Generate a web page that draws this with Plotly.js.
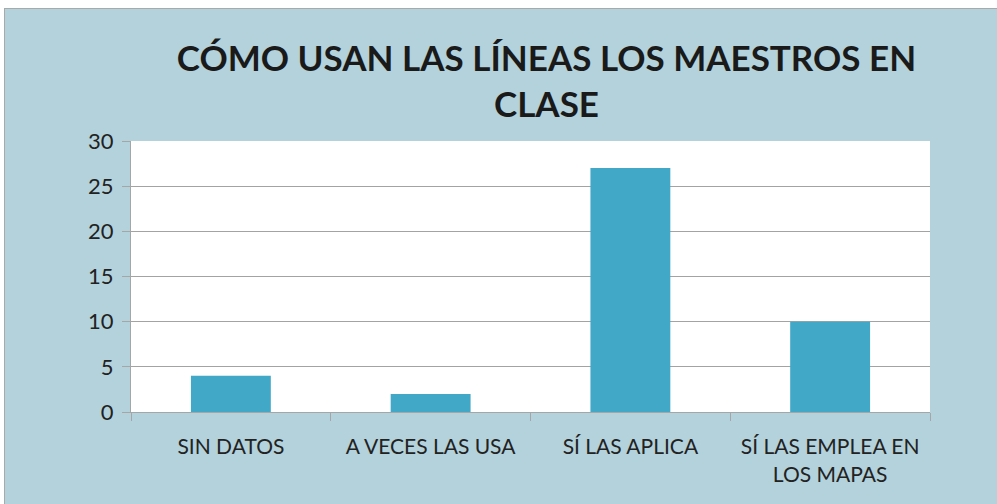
<!DOCTYPE html>
<html>
<head>
<meta charset="utf-8">
<script src="https://cdn.plot.ly/plotly-3.0.1.min.js"></script>
<style>
  body { margin: 0; background: #ffffff; }
  #frame {
    position: absolute; left: 4px; top: 8px;
    width: 993px; height: 496px;
    border-top: 1px solid #a9a9a9; border-left: 1px solid #a9a9a9;
    box-sizing: border-box;
  }
  #chart { width: 992px; height: 495px; }
</style>
</head>
<body>
<div id="frame"><div id="chart"></div></div>
<script>
const categories = ['SIN DATOS', 'A VECES LAS USA', 'SÍ LAS APLICA', 'SÍ LAS EMPLEA EN<br>LOS MAPAS'];
const values = [4, 2, 27, 10];
const yTicks = [0, 5, 10, 15, 20, 25, 30];

const trace = {
    x: categories,
    y: values,
    type: 'bar',
    width: 0.4,
    marker: { color: '#41a9c7' },
    hoverinfo: 'x+y'
};

const layout = {
    width: 992,
    height: 495,
    paper_bgcolor: '#b3d2dc',
    plot_bgcolor: '#ffffff',
    margin: { l: 126, r: 67, t: 132, b: 92 },
    showlegend: false,
    font: { family: 'Lato, "Open Sans", sans-serif', color: '#222222' },
    title: {
        text: 'CÓMO USAN LAS LÍNEAS LOS MAESTROS EN<br>CLASE',
        font: { size: 35, color: '#1a1a1a', family: 'Lato, "Open Sans", sans-serif', weight: 'bold' },
        xref: 'paper', x: 0.52, xanchor: 'center',
        yref: 'paper', y: 1, yanchor: 'bottom',
        pad: { b: 70 }
    },
    xaxis: {
        type: 'category',
        showgrid: false,
        showline: true, linecolor: '#a6a6a6', linewidth: 1,
        ticks: 'outside', tickson: 'boundaries', ticklen: 8, tickcolor: '#a6a6a6',
        ticklabelstandoff: 16,
        tickfont: { size: 21, color: '#222222' },
        fixedrange: true
    },
    yaxis: {
        range: [0, 30],
        tickvals: yTicks,
        showgrid: true, gridcolor: '#a3a3a3', gridwidth: 1,
        showline: true, linecolor: '#a6a6a6', linewidth: 1,
        ticks: 'outside', ticklen: 8, tickcolor: '#a6a6a6',
        ticklabelstandoff: 4,
        tickfont: { size: 22, color: '#222222' },
        zeroline: false,
        fixedrange: true
    },
    bargap: 0.6
};

Plotly.newPlot('chart', [trace], layout, { displayModeBar: false });
</script>
</body>
</html>
